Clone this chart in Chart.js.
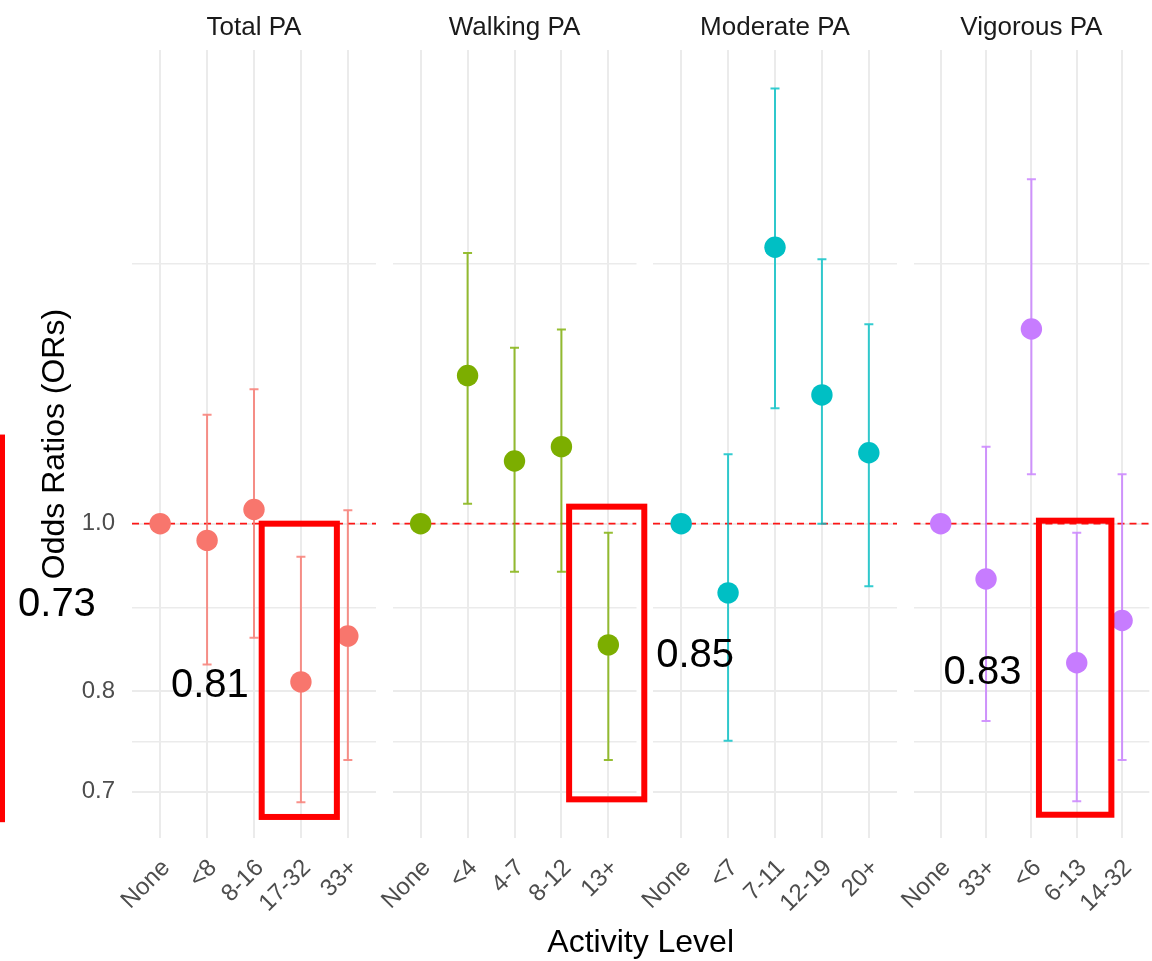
<!DOCTYPE html>
<html>
<head>
<meta charset="utf-8">
<title>Odds Ratios by Activity Level</title>
<script src="https://cdn.jsdelivr.net/npm/chart.js@4.4.1/dist/chart.umd.min.js"></script>
<style>
  html, body { margin: 0; padding: 0; background: #fff; overflow: hidden; }
  #wrap { position: relative; width: 1160px; height: 961px; }
  #wrap canvas { position: absolute; left: 0; top: 0; }
</style>
</head>
<body>
<div id="wrap">
  <canvas id="c0" width="1160" height="961"></canvas>
  <canvas id="c1" width="1160" height="961"></canvas>
  <canvas id="c2" width="1160" height="961"></canvas>
  <canvas id="c3" width="1160" height="961"></canvas>
</div>
<script>
// Data

var panelNames = ["Total PA", "Walking PA", "Moderate PA", "Vigorous PA"];

var totalLevels = ["None", "<8", "8-16", "17-32", "33+"];
var totalOR     = [1.0, 0.978, 1.019, 0.81, 0.861];
var totalLow    = [null, 0.829, 0.859, 0.690, 0.730];
var totalHigh   = [null, 1.156, 1.196, 0.957, 1.018];

var walkingLevels = ["None", "<4", "4-7", "8-12", "13+"];
var walkingOR     = [1.0, 1.218, 1.087, 1.108, 0.851];
var walkingLow    = [null, 1.027, 0.938, 0.938, 0.730];
var walkingHigh   = [null, 1.434, 1.264, 1.295, 0.988];

var moderateLevels = ["None", "<7", "7-11", "12-19", "20+"];
var moderateOR     = [1.0, 0.912, 1.445, 1.187, 1.099];
var moderateLow    = [null, 0.749, 1.166, 1.0, 0.920];
var moderateHigh   = [null, 1.097, 1.785, 1.422, 1.304];

var vigorousLevels = ["None", "33+", "<6", "6-13", "14-32"];
var vigorousOR     = [1.0, 0.929, 1.296, 0.831, 0.879];
var vigorousLow    = [null, 0.769, 1.068, 0.691, 0.730];
var vigorousHigh   = [null, 1.108, 1.582, 0.988, 1.068];

var yTicks = [0.7, 0.8, 1.0];
var yMinorTicks = [0.748, 0.894, 1.414];

// highlight boxes and labels drawn on top
var boxes = [
  { panel: 0, cat: 3, top: 1.004, bottom: 0.674 },
  { panel: 1, cat: 4, top: 1.027, bottom: 0.690 },
  { panel: 3, cat: 3, top: 1.008, bottom: 0.676 }
];
var notes = [
  { text: "0.73", panel: 0, at: -1.37, align: "right", y: 0.898 },
  { text: "0.81", panel: 0, at: 1.89,  align: "right", y: 0.806 },
  { text: "0.85", panel: 1, at: 5.02,  align: "left",  y: 0.839 },
  { text: "0.83", panel: 3, at: 1.78,  align: "right", y: 0.820 }
];

var panelLevels = [totalLevels, walkingLevels, moderateLevels, vigorousLevels];
var panelOR = [totalOR, walkingOR, moderateOR, vigorousOR];
var panelLow = [totalLow, walkingLow, moderateLow, vigorousLow];
var panelHigh = [totalHigh, walkingHigh, moderateHigh, vigorousHigh];
var panelColors = ["#F8766D", "#7CAE00", "#00BFC4", "#C77CFF"];
var barColors = ["rgba(248,118,109,0.8)", "rgba(124,174,0,0.8)", "rgba(0,191,196,0.8)", "rgba(199,124,255,0.8)"];

// Layout

var CANVAS_W = 1160;
var PANEL_LEFT = 132, PANEL_STEP = 260.5, PANEL_W = 244;

Chart.defaults.font.family = "'Liberation Sans', Arial, sans-serif";

// Error bars + dashed reference line

var errorBars = {
  id: 'errorBars',
  beforeDatasetsDraw: function (chart, args, opts) {
    var ctx = chart.ctx, a = chart.chartArea, x = chart.scales.x, y = chart.scales.y;
    ctx.save();
    ctx.beginPath();
    ctx.rect(a.left, a.top, a.right - a.left, a.bottom - a.top);
    ctx.clip();

    var y1 = y.getPixelForValue(1);
    ctx.strokeStyle = 'rgba(255,0,0,0.9)';
    ctx.lineWidth = 1.8;
    ctx.setLineDash([7, 5]);
    ctx.beginPath();
    ctx.moveTo(a.left, y1);
    ctx.lineTo(a.right, y1);
    ctx.stroke();
    ctx.setLineDash([]);

    ctx.strokeStyle = opts.color;
    ctx.lineWidth = 2;
    opts.low.forEach(function (lo, i) {
      var hi = opts.high[i];
      if (lo == null || hi == null) return;
      var px = x.getPixelForValue(i);
      var pl = y.getPixelForValue(lo), ph = y.getPixelForValue(hi);
      ctx.beginPath();
      ctx.moveTo(px, ph); ctx.lineTo(px, pl);
      ctx.moveTo(px - 4.5, ph); ctx.lineTo(px + 4.5, ph);
      ctx.moveTo(px - 4.5, pl); ctx.lineTo(px + 4.5, pl);
      ctx.stroke();
    });
    ctx.restore();
  }
};

var charts = [];

// Red boxes, numbers and x title (on top of last panel)

var overlay = {
  id: 'overlay',
  afterDraw: function (chart) {
    var ctx = chart.ctx;
    var sc = function (p) { return (charts[p] || chart).scales; };
    ctx.save();

    ctx.strokeStyle = '#ff0000';
    ctx.lineWidth = 6;
    boxes.forEach(function (b) {
      var s = sc(b.panel);
      var l = s.x.getPixelForValue(b.cat - 0.9) + 3;
      var r = s.x.getPixelForValue(b.cat + 0.83) - 3;
      var t = s.y.getPixelForValue(b.top) + 3;
      var btm = s.y.getPixelForValue(b.bottom) - 3;
      ctx.strokeRect(l, t, r - l, btm - t);
    });

    // cut-off box edge at the left border
    var s0 = sc(0);
    var ly1 = s0.y.getPixelForValue(1.126), ly2 = s0.y.getPixelForValue(0.672);
    ctx.fillStyle = '#ff0000';
    ctx.fillRect(0, ly1, 5, ly2 - ly1);

    ctx.fillStyle = '#000';
    ctx.font = "40px 'Liberation Sans', Arial, sans-serif";
    ctx.textBaseline = 'middle';
    notes.forEach(function (n) {
      var s = sc(n.panel);
      ctx.textAlign = n.align;
      ctx.fillText(n.text, s.x.getPixelForValue(n.at), s.y.getPixelForValue(n.y));
    });

    ctx.font = "32px 'Liberation Sans', Arial, sans-serif";
    ctx.textAlign = 'center';
    var cx = ((charts[0] || chart).chartArea.left + chart.chartArea.right) / 2;
    ctx.fillText("Activity Level", cx, 943);
    ctx.restore();
  }
};

panelNames.forEach(function (name, p) {
  var left = PANEL_LEFT + p * PANEL_STEP;
  var levels = panelLevels[p];
  var first = p === 0;

  charts.push(new Chart(document.getElementById('c' + p), {
    type: 'scatter',
    data: {
      datasets: [{
        data: panelOR[p].map(function (v, i) { return { x: i, y: v }; }),
        pointRadius: 10.7,
        pointHoverRadius: 10.7,
        pointBackgroundColor: panelColors[p],
        pointBorderWidth: 0,
        borderWidth: 0
      }]
    },
    options: {
      responsive: false,
      animation: false,
      events: [],
      layout: {
        padding: { left: first ? 0 : left, right: CANVAS_W - left - PANEL_W, top: 0, bottom: 0 }
      },
      scales: {
        x: {
          type: 'linear',
          min: -0.6,
          max: 4.6,
          afterBuildTicks: function (scale) {
            scale.ticks = levels.map(function (_, i) { return { value: i }; });
          },
          afterFit: function (scale) {
            scale.height = 123;
            scale.paddingLeft = 0;
            scale.paddingRight = 0;
          },
          ticks: {
            autoSkip: false,
            minRotation: 45,
            maxRotation: 45,
            padding: 16,
            labelOffset: 6,
            color: '#4D4D4D',
            font: { size: 24 },
            callback: function (v) { return levels[v]; }
          },
          grid: { color: '#EBEBEB', lineWidth: 2, drawTicks: false },
          border: { display: false }
        },
        y: {
          type: 'logarithmic',
          min: 0.658,
          max: 1.879,
          afterBuildTicks: function (scale) {
            scale.ticks = yTicks.concat(yMinorTicks).sort(function (a, b) { return a - b; })
              .map(function (v) { return { value: v }; });
          },
          afterFit: function (scale) {
            scale.width = first ? left : 0;
          },
          ticks: {
            display: first,
            autoSkip: false,
            padding: 17,
            color: '#4D4D4D',
            font: { size: 24 },
            callback: function (v) { return yTicks.indexOf(v) >= 0 ? v.toFixed(1) : ''; }
          },
          title: {
            display: first,
            text: 'Odds Ratios (ORs)',
            color: '#000',
            font: { size: 32 },
            padding: { top: 36, bottom: 0 }
          },
          grid: {
            color: '#EBEBEB',
            drawTicks: false,
            lineWidth: function (c) { return c.tick && yTicks.indexOf(c.tick.value) >= 0 ? 2 : 1.4; }
          },
          border: { display: false }
        }
      },
      plugins: {
        legend: { display: false },
        tooltip: { enabled: false },
        title: {
          display: true,
          text: name,
          fullSize: false,
          color: '#1A1A1A',
          font: { size: 26, weight: 'normal' },
          padding: { top: 12, bottom: 6.8 }
        },
        errorBars: { low: panelLow[p], high: panelHigh[p], color: barColors[p] }
      }
    },
    plugins: p === 3 ? [errorBars, overlay] : [errorBars]
  }));
});
</script>
</body>
</html>
